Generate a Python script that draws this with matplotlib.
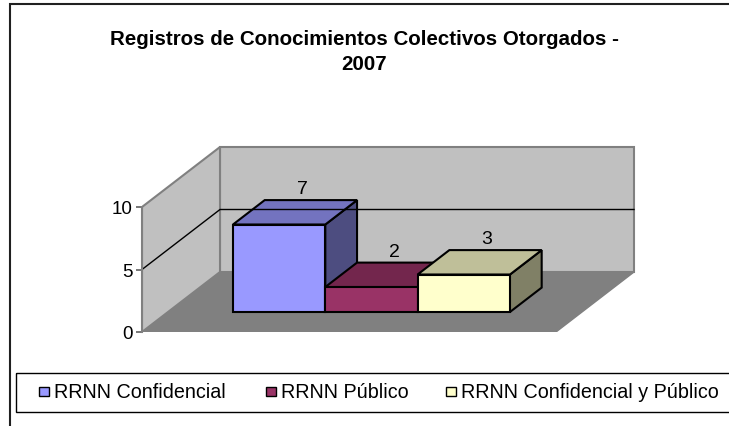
import matplotlib.pyplot as plt
from matplotlib.patches import Polygon, Rectangle

plt.rcParams['font.family'] = ['Liberation Sans', 'DejaVu Sans']

# ── data ─────────────────────────────────────────────────────────────────────
title = 'Registros de Conocimientos Colectivos Otorgados -\n2007'
series = ['RRNN Confidencial', 'RRNN Público', 'RRNN Confidencial y Público']
values = [7, 2, 3]
colors = ['#9999FF', '#993366', '#FFFFCC']
yticks = [0, 5, 10]

# ── layout (pixels) ─────────────────────────────────────────────────────────
W, H = 729, 427
X0, Y0 = 142, 333          # front-left corner of the floor
PX_CAT = 414               # floor width
PX_VAL = 12.5              # pixels per unit
DEPTH_PX = (78, 60)        # oblique depth offset
DX = DEPTH_PX[0] / PX_CAT
DY = DEPTH_PX[1] / PX_VAL

bar_x0, bar_w = 0.157, 0.223   # bar start / width in category units
d0, d1 = 0.333, 0.74           # bar front / back depth fraction


def shade(hex_color, f):
    r, g, b = (int(hex_color[i:i + 2], 16) for i in (1, 3, 5))
    return (r * f / 255, g * f / 255, b * f / 255)


fig = plt.figure(figsize=(W / 100, H / 100), dpi=100)

# background overlay in pixel coords: frame border and legend
bg = fig.add_axes([0, 0, 1, 1])
bg.set_xlim(0, W)
bg.set_ylim(H, 0)
bg.axis('off')
bg.plot([10, 10, W], [H, 5, 5], color='#202020', lw=1.5, solid_joinstyle='miter')

bg.add_patch(Rectangle((16, 374), W, 39, fill=False, ec='black', lw=1))
legend_x = [39, 266, 446]
for lx, name, c in zip(legend_x, series, colors):
    bg.add_patch(Rectangle((lx, 388), 10, 9, fc=c, ec='black', lw=1))
    bg.text(lx + 15, 393, name, va='center', ha='left', fontsize=14.2)

fig.text(0.5, 1 - 52 / H, title, ha='center', va='center', fontsize=14.8,
         fontweight='bold', linespacing=1.45)

# ── chart axes ──────────────────────────────────────────────────────────────
ax = fig.add_axes([X0 / W, (H - Y0) / H, (W - X0) / W, (Y0 - 100) / H])
ax.set_facecolor('none')
ax.set_xlim(0, (W - X0) / PX_CAT)
ax.set_ylim(0, (Y0 - 100) / PX_VAL)
for s in ['top', 'right', 'bottom']:
    ax.spines[s].set_visible(False)
ax.spines['left'].set_bounds(yticks[0], yticks[-1])
ax.spines['left'].set_color('#808080')
ax.spines['left'].set_linewidth(1.5)
ax.set_xticks([])
ax.set_yticks(yticks)
ax.tick_params(axis='y', direction='out', length=4, width=1.2,
               color='#606060', labelsize=13.5, pad=3)

top = yticks[-1]
ax.add_patch(Polygon([(0, 0), (1, 0), (1 + DX, DY), (DX, DY)],
                     fc='#808080', ec='#808080', lw=1))
ax.add_patch(Polygon([(DX, DY), (1 + DX, DY), (1 + DX, DY + top), (DX, DY + top)],
                     fc='#C0C0C0', ec='#808080', lw=1.5))
ax.add_patch(Polygon([(0, 0), (DX, DY), (DX, DY + top), (0, top)],
                     fc='#C0C0C0', ec='#808080', lw=1.5))
for v in yticks[1:-1]:
    ax.plot([0, DX, 1 + DX], [v, v + DY, v + DY], color='black', lw=1)

# bars
ox0, oy0 = d0 * DX, d0 * DY
ox1, oy1 = d1 * DX, d1 * DY
for i, (v, c) in enumerate(zip(values, colors)):
    xl = bar_x0 + i * bar_w
    xr = xl + bar_w
    side = [(xr + ox0, oy0), (xr + ox1, oy1), (xr + ox1, v + oy1), (xr + ox0, v + oy0)]
    topf = [(xl + ox0, v + oy0), (xr + ox0, v + oy0), (xr + ox1, v + oy1), (xl + ox1, v + oy1)]
    front = [(xl + ox0, oy0), (xr + ox0, oy0), (xr + ox0, v + oy0), (xl + ox0, v + oy0)]
    for poly, f in [(side, 0.5), (topf, 0.75), (front, 1.0)]:
        ax.add_patch(Polygon(poly, fc=shade(c, f), ec='black', lw=1.5,
                             joinstyle='miter'))
    cx = (xl + xr) / 2 + (ox0 + ox1) / 2
    cy = v + (oy0 + oy1) / 2
    ax.annotate(str(v), xy=(cx, cy), xytext=(5, 17), textcoords='offset points',
                ha='center', va='center', fontsize=14)

fig.savefig('out.png', dpi=100)
